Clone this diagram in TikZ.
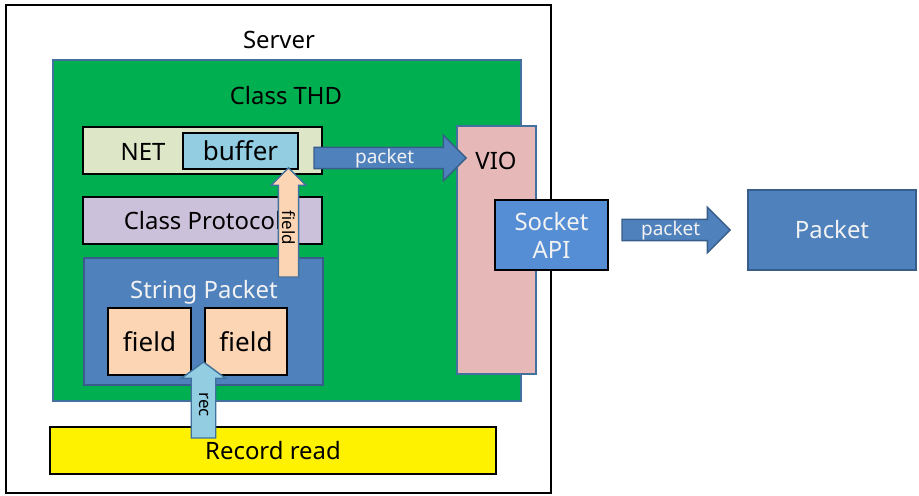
\documentclass[tikz,border=0pt]{standalone}
\usepackage{fontspec}
\setmainfont{Noto Sans}
\usetikzlibrary{shapes.arrows}
\definecolor{thdgreen}{RGB}{0,176,80}
\definecolor{steel}{RGB}{65,113,156}
\definecolor{netfill}{RGB}{222,230,200}
\definecolor{buffill}{RGB}{146,205,226}
\definecolor{protofill}{RGB}{204,193,218}
\definecolor{pktblue}{RGB}{79,129,189}
\definecolor{pktline}{RGB}{56,93,138}
\definecolor{fieldfill}{RGB}{252,213,181}
\definecolor{viofill}{RGB}{230,185,184}
\definecolor{sockfill}{RGB}{85,142,213}
\definecolor{paper}{RGB}{242,242,242}
\tikzset{
	blk/.style={draw=black, line width=1.5pt, inner sep=0pt},
	soft/.style={draw=steel, line width=1.2pt, inner sep=0pt},
	lbl/.style={font=\fontsize{17}{20}\selectfont},
	big/.style={font=\fontsize{18.5}{22}\selectfont},
	fat/.style={single arrow, line width=1pt, inner xsep=0pt, inner ysep=0pt, outer sep=0pt, anchor=tail, minimum width=1pt},
}
\begin{document}
\begin{tikzpicture}[x=0.025cm,y=-0.025cm]
		\useasboundingbox (0,0) rectangle (919,495);
		% server and thread
		\node[blk, line width=1.3pt, fill=white, minimum width=13.625cm, minimum height=12.2cm] (server) at (278.5,249) {};
		\node[lbl] (servertxt) at (279,40) {Server};
		\node[soft, fill=thdgreen, minimum width=11.7cm, minimum height=8.525cm] (thd) at (287,230.5) {};
		\node[lbl] (thdtxt) at (286,96) {Class THD};
		% left column
		\node[blk, fill=netfill, minimum width=5.975cm, minimum height=1.175cm] (net) at (202.5,150.5) {};
		\node[lbl] (nettxt) at (143,152) {NET};
		\node[blk, fill=buffill, minimum width=2.875cm, minimum height=0.9cm, big] (buffer) at (240.5,151) {buffer};
		\node[blk, fill=protofill, minimum width=5.975cm, minimum height=1.175cm, lbl] (proto) at (202.5,220.5) {Class Protocol};
		\node[soft, draw=pktline, fill=pktblue, minimum width=5.975cm, minimum height=3.175cm] (strpkt) at (203.5,321.5) {};
		\node[lbl, text=paper] (strpkttxt) at (204,292) {String Packet};
		\node[blk, fill=fieldfill, minimum width=2.075cm, minimum height=1.675cm, big] (fielda) at (149.5,341.5) {field};
		\node[blk, fill=fieldfill, minimum width=2.05cm, minimum height=1.675cm, big] (fieldb) at (246,341.5) {field};
		\node[blk, fill=yellow, minimum width=11.15cm, minimum height=1.175cm, lbl] (record) at (273,450.5) {Record read};
		% right column
		\node[soft, fill=viofill, minimum width=1.975cm, minimum height=6.2cm] (vio) at (496.5,250) {};
		\node[lbl] (viotxt) at (496,161) {VIO};
		\node[blk, fill=sockfill, minimum width=2.825cm, minimum height=1.75cm, lbl, text=paper, align=center] (socket) at (551.5,235) {Socket\\API};
		\node[soft, draw=pktline, fill=pktblue, minimum width=4.2cm, minimum height=2cm, lbl, text=paper] (packet) at (832,230) {Packet};
		% block arrows
		\node[fat, draw=pktline, fill=pktblue, text=paper, font=\fontsize{13.5}{16}\selectfont,
			minimum height=3.8cm, text height=11.1pt, text depth=3.1pt, single arrow head extend=8.5pt] (pkta) at (314,158) {packet};
		\node[fat, draw=pktline, fill=pktblue, text=paper, font=\fontsize{13.5}{16}\selectfont,
			minimum height=2.7cm, text height=11.1pt, text depth=3.1pt, single arrow head extend=8.5pt] (pktb) at (622,230) {packet};
		\node[fat, draw=steel, fill=fieldfill, font=\fontsize{12}{14}\selectfont, rotate=-90, shape border rotate=180,
			minimum height=2.725cm, text height=11.05pt, text depth=2.45pt, single arrow head extend=5pt] (fieldarr) at (288.5,277) {field};
		\node[fat, draw=steel, fill=buffill, font=\fontsize{12}{14}\selectfont, rotate=-90, shape border rotate=180,
			minimum height=1.9cm, text height=11.4pt, text depth=5pt, single arrow head extend=7.1pt, single arrow tip angle=107] (recarr) at (203.5,438) {rec};
	\end{tikzpicture}
\end{document}
